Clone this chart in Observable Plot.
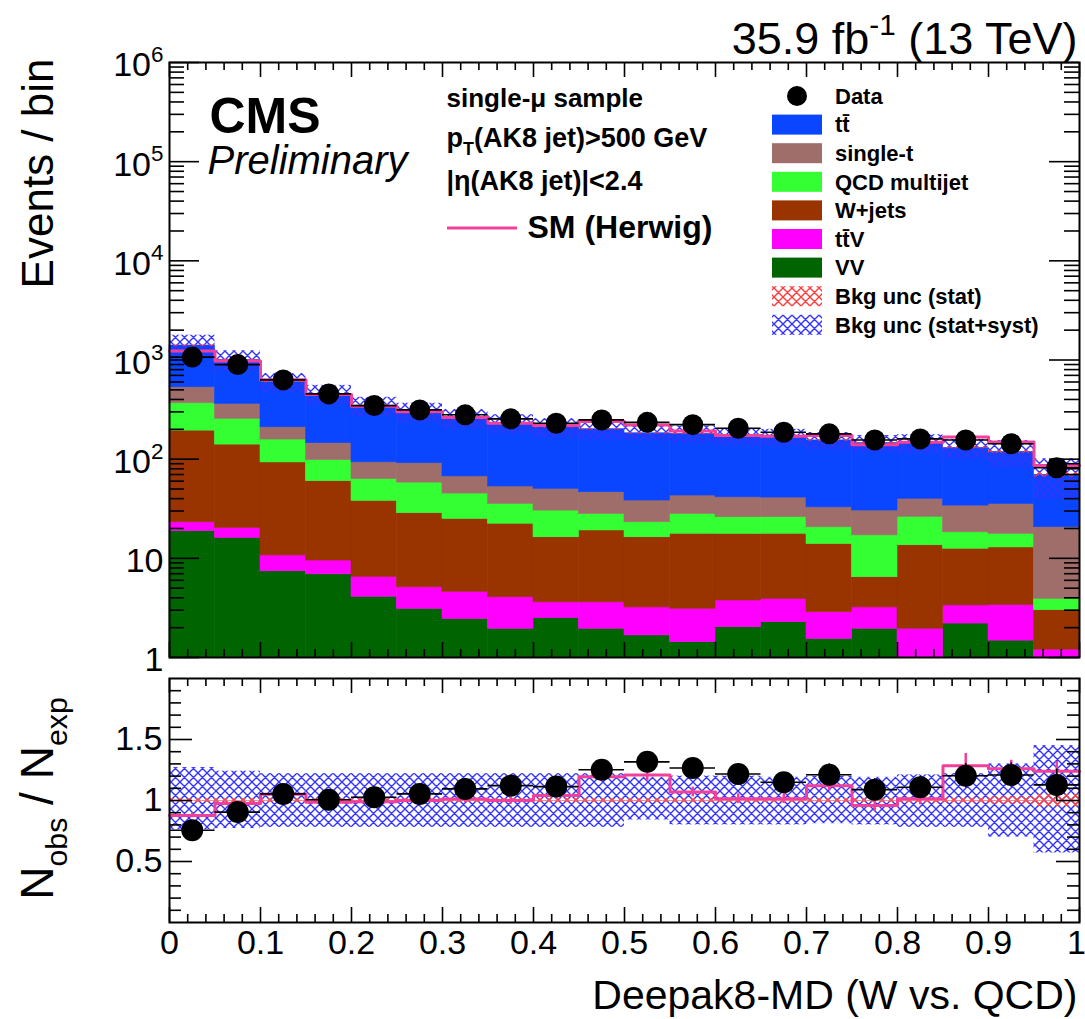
<!DOCTYPE html>
<html><head><meta charset="utf-8">
<script src="https://cdn.jsdelivr.net/npm/d3@7"></script>
<script src="https://cdn.jsdelivr.net/npm/@observablehq/plot@0.6"></script>
<style>
body{margin:0;background:#fff;}
#chart{position:relative;width:1085px;height:1019px;overflow:hidden;}
#chart svg{display:block;}
</style></head><body><div id="chart"></div>
<script>
// ---------------- data ----------------
const binEdges = [0,0.05,0.1,0.15,0.2,0.25,0.3,0.35,0.4,0.45,0.5,0.55,0.6,0.65,0.7,0.75,0.8,0.85,0.9,0.95,1.0];
const ttbar   = [869,639,390,310,252,209,193,177,160,154,144,137,129,127,122,115,106,96,83,49];
const singleT = [165,106,52,47,30,33,22,17.6,19.9,18.4,15.2,15,15.3,15,12.1,13.3,13.6,15.7,17.7,16.7];
const qcd     = [172,115,65,38,25,29.5,20,13.1,14,8.9,6.8,10.3,8.3,8.3,6.6,10.6,12.7,5.8,4.8,0.9];
const wjets   = [171,120,82,50.5,31.5,23.4,20.4,18.3,12.7,15.5,13.1,14.6,13.9,13.8,11.1,3.25,11.6,9.15,9.5,1.8];
const ttV     = [4.3,4.2,3.3,2.6,2.4,2.0,2.15,2.1,1.1,1.65,1.53,1.67,1.74,1.63,1.32,1.25,1.45,1.15,1.9,0.7];
const vv      = [18.8,16.1,7.4,6.9,4.1,3.1,2.45,1.95,2.5,1.95,1.67,1.43,2.02,2.27,1.54,1.95,0.5,2.2,1.48,0.5];
const dataCounts = [1070,899,630,455,347,314,280,255,230,249,235,223,205,187,180,156,160,156,143,82];
const ratioData    = [0.756,0.905,1.054,1.006,1.027,1.054,1.095,1.122,1.114,1.252,1.317,1.266,1.217,1.149,1.211,1.089,1.108,1.203,1.209,1.128];
const ratioDataErr = [0.03,0.03,0.04,0.04,0.05,0.05,0.05,0.06,0.06,0.07,0.08,0.08,0.08,0.08,0.09,0.09,0.09,0.10,0.10,0.13];
const herwigRatio  = [0.878,0.975,1.052,0.985,0.99,1.0,1.012,1.0,1.04,1.195,1.21,1.07,1.015,1.015,1.12,0.96,1.015,1.285,1.26,1.24];
const herwigErr    = [0.02,0.02,0.03,0.02,0.03,0.03,0.03,0.03,0.03,0.04,0.05,0.04,0.04,0.04,0.04,0.05,0.05,0.10,0.07,0.08];
const systUp = [1.27,1.24,1.22,1.22,1.22,1.22,1.22,1.22,1.22,1.22,1.19,1.20,1.20,1.19,1.20,1.19,1.21,1.22,1.30,1.45];
const systDn = [0.76,0.77,0.78,0.78,0.78,0.78,0.78,0.78,0.78,0.78,0.84,0.80,0.80,0.80,0.81,0.80,0.78,0.78,0.70,0.57];
const statUnc = [0.015,0.015,0.015,0.015,0.015,0.015,0.015,0.015,0.015,0.015,0.015,0.015,0.015,0.015,0.015,0.015,0.02,0.02,0.03,0.05];

const processNames  = ["VV","tt\u0304V","W+jets","QCD multijet","single-t","tt\u0304"];
const processColors = ["#006400","#ff00ff","#993300","#33ff33","#9f6e6a","#0a45ff"];
const processValues = [vv, ttV, wjets, qcd, singleT, ttbar];

const topTickValues = [1,10,100,1e3,1e4,1e5,1e6];
const topTickLabels = ["1","10","10^{2}","10^{3}","10^{4}","10^{5}","10^{6}"];
const ratioTickValues = [0.5,1,1.5];
const ratioTickLabels = ["0.5","1","1.5"];
const xTickValues = [0,0.1,0.2,0.3,0.4,0.5,0.6,0.7,0.8,0.9,1];
const xTickLabels = ["0","0.1","0.2","0.3","0.4","0.5","0.6","0.7","0.8","0.9","1"];

// ---------------- derived tables ----------------
const FONT = "'Liberation Sans', Arimo, Helvetica, Arial, sans-serif";
const PINK = "#f2409a";
const nb = binEdges.length - 1;
const bins = d3.range(nb).map(i => {
  const total = d3.sum(processValues, v => v[i]);
  return {
    lo: binEdges[i], hi: binEdges[i+1], mid: (binEdges[i]+binEdges[i+1])/2,
    total, data: dataCounts[i],
    r: ratioData[i], rLo: ratioData[i]-ratioDataErr[i], rHi: ratioData[i]+ratioDataErr[i],
    hw: herwigRatio[i], hwLo: herwigRatio[i]-herwigErr[i], hwHi: herwigRatio[i]+herwigErr[i],
    hwTop: total*herwigRatio[i], hwTopLo: total*(herwigRatio[i]-herwigErr[i]), hwTopHi: total*(herwigRatio[i]+herwigErr[i]),
    sUp: systUp[i], sDn: systDn[i], tUp: 1+statUnc[i], tDn: 1-statUnc[i],
    bandUp: total*systUp[i], bandDn: total*systDn[i],
    statUp: total*(1+statUnc[i]), statDn: total*(1-statUnc[i])
  };
});
const stackRows = [];
bins.forEach((b, i) => {
  let cum = 0;
  processValues.forEach((vals, k) => {
    const lower = cum; cum += vals[i];
    if (cum > 1) stackRows.push({k, x1: b.lo, x2: b.hi, y1: Math.max(lower, 1), y2: cum});
  });
});
const stepPts = key => bins.flatMap(b => [{x: b.lo, y: b[key]}, {x: b.hi, y: b[key]}]);

// tick positions
const xMinor = d3.range(0, 51).map(i => i/50).filter(v => Math.round(v*50) % 5 !== 0);
const yMinorTop = d3.range(0, 6).flatMap(e => d3.range(2, 10).map(k => k*Math.pow(10, e)));
const rMinor = d3.range(1, 20).map(i => i/10).filter(v => Math.round(v*10) % 5 !== 0);

// ---------------- helpers ----------------
function hatchDefs(prefix) {
  return () => {
    const defs = d3.create("svg:defs");
    [["blue", "#3434ff"], ["red", "#ff3b3b"]].forEach(([n, c]) => {
      const p = defs.append("pattern").attr("id", prefix + n).attr("patternUnits", "userSpaceOnUse")
        .attr("width", 9).attr("height", 9);
      p.append("path").attr("d", "M0,0L9,9M9,0L0,9M-1,8L1,10M8,-1L10,1")
        .attr("stroke", c).attr("stroke-width", 1.4).attr("fill", "none");
    });
    return defs.node();
  };
}
function richify(svg) {
  svg.querySelectorAll("text").forEach(t => {
    const s = t.textContent;
    if (!/[\^_]\{/.test(s)) return;
    const fs = parseFloat(getComputedStyle(t).fontSize) || 20;
    while (t.firstChild) t.removeChild(t.firstChild);
    const re = /([\^_])\{([^}]*)\}|([^\^_]+)/g;
    let m, cur = 0;
    while ((m = re.exec(s))) {
      const ts = document.createElementNS("http://www.w3.org/2000/svg", "tspan");
      let target = 0, text;
      if (m[3] !== undefined) { text = m[3]; }
      else {
        text = m[2];
        ts.setAttribute("font-size", (0.66*fs) + "px");
        target = m[1] === "^" ? -0.42*fs : 0.3*fs;
      }
      const d = target - cur;
      if (d) ts.setAttribute("dy", d);
      cur = target;
      ts.textContent = text;
      t.appendChild(ts);
    }
  });
}
function ticks(fw, fh, yMaj, yMin, majL, minL, xMajL, xMinL) {
  const st = {stroke: "black", strokeWidth: 1.6};
  return [
    Plot.tickY(yMaj, {y: d => d, insetRight: fw - majL, ...st}),
    Plot.tickY(yMaj, {y: d => d, insetLeft: fw - majL, ...st}),
    Plot.tickY(yMin, {y: d => d, insetRight: fw - minL, ...st}),
    Plot.tickY(yMin, {y: d => d, insetLeft: fw - minL, ...st}),
    Plot.tickX(xTickValues, {x: d => d, insetTop: fh - xMajL, ...st}),
    Plot.tickX(xTickValues, {x: d => d, insetBottom: fh - xMajL, ...st}),
    Plot.tickX(xMinor, {x: d => d, insetTop: fh - xMinL, ...st}),
    Plot.tickX(xMinor, {x: d => d, insetBottom: fh - xMinL, ...st})
  ];
}
function legendMark() {
  const g = d3.create("svg:g").attr("font-family", FONT).attr("font-weight", "bold")
    .attr("font-size", 22).attr("text-anchor", "start");
  const rows = [
    {label: "Data", type: "dot"},
    {label: processNames[5], fill: processColors[5]},
    {label: processNames[4], fill: processColors[4]},
    {label: processNames[3], fill: processColors[3]},
    {label: processNames[2], fill: processColors[2]},
    {label: processNames[1], fill: processColors[1]},
    {label: processNames[0], fill: processColors[0]},
    {label: "Bkg unc (stat)", fill: "url(#tophatchred)"},
    {label: "Bkg unc (stat+syst)", fill: "url(#tophatchblue)"}
  ];
  rows.forEach((r, i) => {
    const cy = 96 + i*28.6;
    if (r.type === "dot") g.append("circle").attr("cx", 797).attr("cy", cy).attr("r", 10).attr("fill", "black");
    else g.append("rect").attr("x", 772).attr("y", cy - 10).attr("width", 50).attr("height", 20).attr("fill", r.fill);
    g.append("text").attr("x", 835).attr("y", cy).attr("dy", "0.35em").attr("text-anchor", "start").text(r.label);
  });
  return g.node();
}

// ---------------- top panel ----------------
const topW = 1085, topH = 665, tML = 169, tMR = 6, tMT = 62, tMB = 8;
const tFW = topW - tML - tMR, tFH = topH - tMT - tMB;
const txt = {fontFamily: FONT, fill: "black"};
const topPlot = Plot.plot({
  width: topW, height: topH,
  marginLeft: tML, marginRight: tMR, marginTop: tMT, marginBottom: tMB,
  style: {background: "transparent", overflow: "visible", fontFamily: FONT},
  x: {domain: [0, 1], axis: null},
  y: {type: "log", domain: [1, 1e6], axis: null},
  marks: [
    hatchDefs("tophatch"),
    ...processValues.map((v, k) => Plot.rect(stackRows.filter(r => r.k === k),
      {x1: "x1", x2: "x2", y1: "y1", y2: "y2", fill: processColors[k], stroke: processColors[k], strokeWidth: 0.6})),
    Plot.rect(bins, {x1: "lo", x2: "hi", y1: "bandDn", y2: "bandUp", fill: "url(#tophatchblue)"}),
    Plot.rect(bins, {x1: "lo", x2: "hi", y1: "statDn", y2: "statUp", fill: "url(#tophatchred)"}),
    Plot.line(stepPts("hwTop"), {x: "x", y: "y", stroke: PINK, strokeWidth: 3}),
    Plot.ruleX(bins, {x: "mid", y1: "hwTopLo", y2: "hwTopHi", stroke: PINK, strokeWidth: 2.5}),
    Plot.ruleY(bins, {x1: "lo", x2: "hi", y: "data", stroke: "black", strokeWidth: 1.6}),
    Plot.dot(bins, {x: "mid", y: "data", r: 10.5, fill: "black"}),
    ...ticks(tFW, tFH, topTickValues, yMinorTop, 30, 15, 15, 8),
    Plot.frame({stroke: "black", strokeWidth: 2}),
    Plot.text(topTickValues, {y: d => d, text: (d, i) => topTickLabels[i], frameAnchor: "left", textAnchor: "end",
      lineAnchor: "middle", dx: -6, dy: 3, fontSize: 34, ...txt}),
    Plot.text(["Events / bin"], {text: d => d, frameAnchor: "top-left", rotate: -90, textAnchor: "end",
      lineAnchor: "middle", dx: -131, dy: -4, fontSize: 44, ...txt}),
    Plot.text(["35.9 fb^{-1} (13 TeV)"], {text: d => d, frameAnchor: "top-right", textAnchor: "end", lineAnchor: "bottom",
      dx: -2, dy: -9, fontSize: 45, ...txt}),
    Plot.text(["CMS"], {text: d => d, frameAnchor: "top-left", textAnchor: "start", lineAnchor: "middle", dx: 40, dy: 54,
      fontSize: 50, fontWeight: "bold", ...txt}),
    Plot.text(["Preliminary"], {text: d => d, frameAnchor: "top-left", textAnchor: "start", lineAnchor: "middle", dx: 38, dy: 99,
      fontSize: 40, fontStyle: "italic", ...txt}),
    Plot.text(["single-\u03bc sample"], {text: d => d, frameAnchor: "top-left", textAnchor: "start", lineAnchor: "middle",
      dx: 277, dy: 36, fontSize: 26, fontWeight: "bold", ...txt}),
    Plot.text(["p_{T}(AK8 jet)>500 GeV"], {text: d => d, frameAnchor: "top-left", textAnchor: "start", lineAnchor: "middle",
      dx: 277, dy: 76, fontSize: 27, fontWeight: "bold", ...txt}),
    Plot.text(["|\u03b7(AK8 jet)|<2.4"], {text: d => d, frameAnchor: "top-left", textAnchor: "start", lineAnchor: "middle",
      dx: 277, dy: 119, fontSize: 27, fontWeight: "bold", ...txt}),
    Plot.text(["SM (Herwig)"], {text: d => d, frameAnchor: "top-left", textAnchor: "start", lineAnchor: "middle",
      dx: 358, dy: 165, fontSize: 32, fontWeight: "bold", ...txt}),
    () => d3.create("svg:line").attr("x1", 447).attr("x2", 517).attr("y1", 228).attr("y2", 228)
      .attr("stroke", PINK).attr("stroke-width", 3).node(),
    legendMark
  ]
});

// ---------------- ratio panel ----------------
const botW = 1085, botH = 354, bML = 169, bMR = 6, bMT = 13, bMB = 97;
const bFW = botW - bML - bMR, bFH = botH - bMT - bMB;
const botPlot = Plot.plot({
  width: botW, height: botH,
  marginLeft: bML, marginRight: bMR, marginTop: bMT, marginBottom: bMB,
  style: {background: "transparent", overflow: "visible", fontFamily: FONT},
  x: {domain: [0, 1], axis: null},
  y: {domain: [0, 2], axis: null},
  marks: [
    hatchDefs("bothatch"),
    Plot.rect(bins, {x1: "lo", x2: "hi", y1: "sDn", y2: "sUp", fill: "url(#bothatchblue)"}),
    Plot.rect(bins, {x1: "lo", x2: "hi", y1: "tDn", y2: "tUp", fill: "url(#bothatchred)"}),
    Plot.ruleY([1], {stroke: "#ff5a5a", strokeWidth: 1.2, strokeOpacity: 0.7}),
    Plot.line(stepPts("hw"), {x: "x", y: "y", stroke: PINK, strokeWidth: 3}),
    Plot.ruleX(bins, {x: "mid", y1: "hwLo", y2: "hwHi", stroke: PINK, strokeWidth: 2.5}),
    Plot.ruleY(bins, {x1: "lo", x2: "hi", y: "r", stroke: "black", strokeWidth: 1.6}),
    Plot.ruleX(bins, {x: "mid", y1: "rLo", y2: "rHi", stroke: "black", strokeWidth: 1.6}),
    Plot.dot(bins, {x: "mid", y: "r", r: 11, fill: "black"}),
    ...ticks(bFW, bFH, ratioTickValues, rMinor, 23, 12, 15, 8),
    Plot.frame({stroke: "black", strokeWidth: 2}),
    Plot.text(ratioTickValues, {y: d => d, text: (d, i) => ratioTickLabels[i], frameAnchor: "left", textAnchor: "end",
      lineAnchor: "middle", dx: -7, fontSize: 34, ...txt}),
    Plot.text(xTickValues.slice(0, -1), {x: d => d, text: (d, i) => xTickLabels[i], frameAnchor: "bottom",
      lineAnchor: "middle", dy: 21, fontSize: 34, ...txt}),
    Plot.text(xTickValues.slice(-1), {x: d => d, text: () => xTickLabels[xTickLabels.length - 1], frameAnchor: "bottom",
      lineAnchor: "middle", dy: 21, dx: -3, fontSize: 34, ...txt}),
    Plot.text(["N_{obs} / N_{exp}"], {text: d => d, frameAnchor: "left", rotate: -90, textAnchor: "middle",
      lineAnchor: "middle", dx: -131, dy: -2, fontSize: 46, ...txt}),
    Plot.text(["Deepak8-MD (W vs. QCD)"], {text: d => d, frameAnchor: "bottom-right", textAnchor: "end",
      lineAnchor: "middle", dx: -2, dy: 73, fontSize: 41, ...txt})
  ]
});

const chart = document.getElementById("chart");
chart.appendChild(topPlot);
chart.appendChild(botPlot);
richify(topPlot);
richify(botPlot);
</script></body></html>
